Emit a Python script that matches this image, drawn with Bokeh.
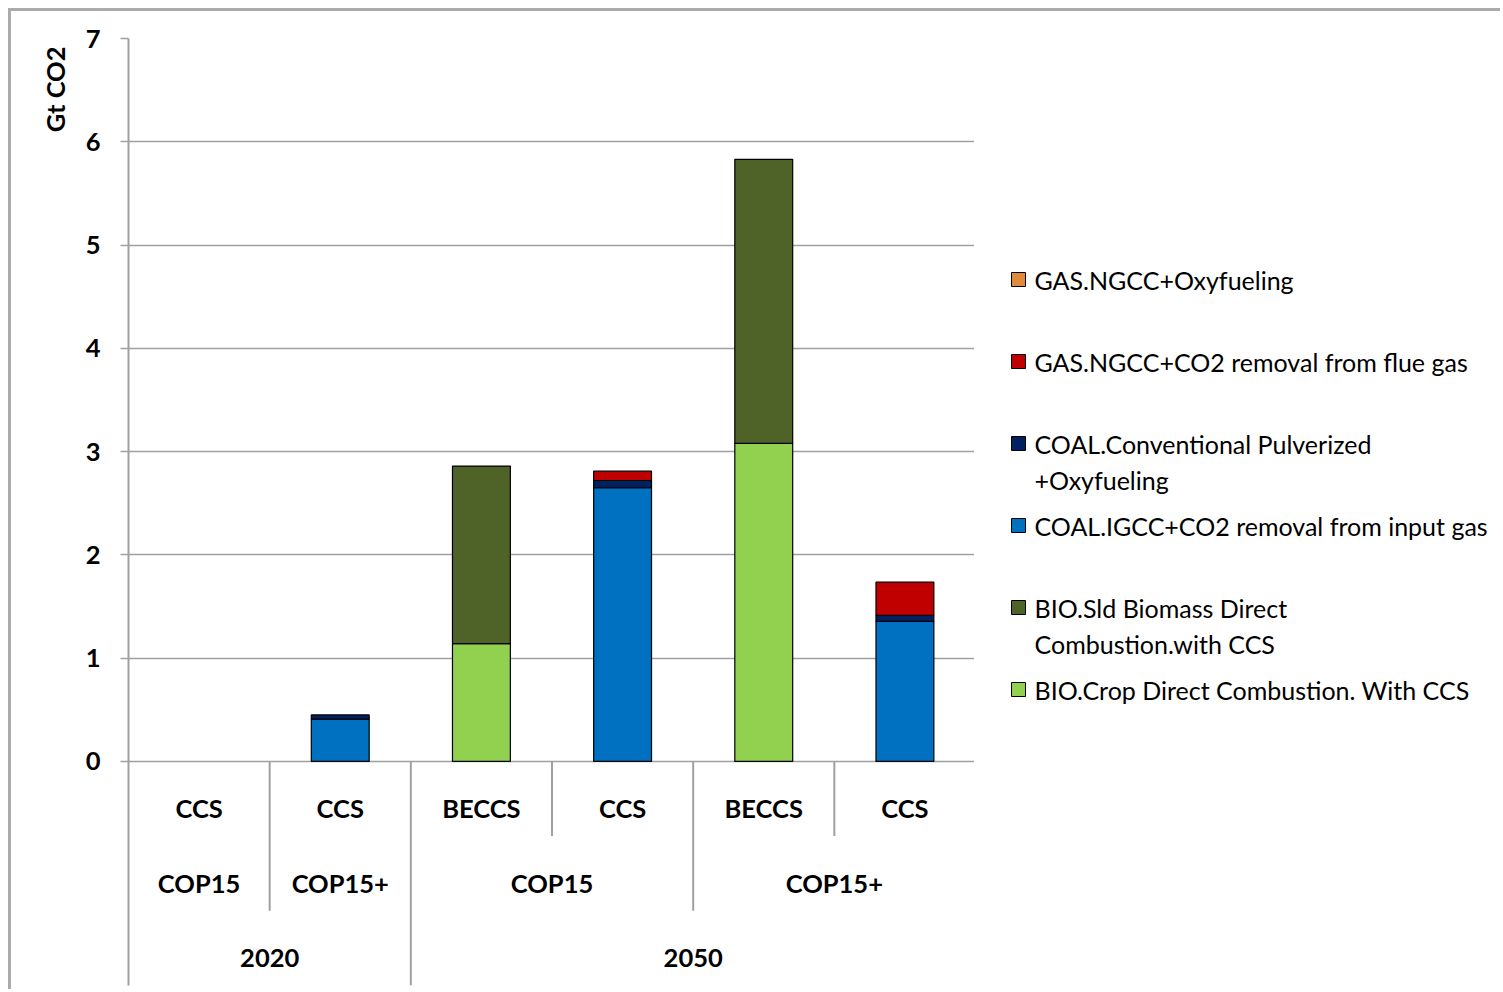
import numpy as np
from bokeh.plotting import figure
from bokeh.models import Range1d, FixedTicker, Title, ColumnDataSource
from bokeh.layouts import row
from bokeh.core.properties import value
from bokeh.embed import file_html
from bokeh.resources import INLINE

# ---------------- data ----------------
years = ["2020", "2020", "2050", "2050", "2050", "2050"]
scenarios = ["COP15", "COP15+", "COP15", "COP15", "COP15+", "COP15+"]
techs = ["CCS", "CCS", "BECCS", "CCS", "BECCS", "CCS"]

bio_crop = [0, 0, 1.14, 0, 3.08, 0]
bio_sld = [0, 0, 1.72, 0, 2.75, 0]
coal_igcc = [0, 0.41, 0, 2.65, 0, 1.355]
coal_pulv = [0, 0.04, 0, 0.07, 0, 0.06]
gas_flue = [0, 0, 0, 0.09, 0, 0.32]
gas_oxy = [0, 0, 0, 0, 0, 0]

# stacking order bottom -> top
series_values = [bio_crop, bio_sld, coal_igcc, coal_pulv, gas_flue, gas_oxy]
series_labels = [
    ["BIO.Crop Direct Combustion. With CCS"],
    ["BIO.Sld Biomass Direct", "Combustion.with CCS"],
    ["COAL.IGCC+CO2 removal from input gas"],
    ["COAL.Conventional Pulverized", "+Oxyfueling"],
    ["GAS.NGCC+CO2 removal from flue gas"],
    ["GAS.NGCC+Oxyfueling"],
]
series_colors = ["#92D050", "#4F6228", "#0070C0", "#002060", "#C00000", "#E08A3E"]

y_ticks = [0, 1, 2, 3, 4, 5, 6, 7]
y_title = "Gt CO2"

FONT = "Lato"
FS = "25px"
FSB = "25.5px"
GRAY = "#a0a0a0"
BORDER = "3px solid #ababab"

# ---------------- main chart ----------------
n = len(techs)
y_min = -2.17
row_h = -y_min / 3.0
W_MAIN, H = 966, 981
MB_L, MB_R, MB_T, MB_B = 117, 2, 27, 7
frame_w = W_MAIN - MB_L - MB_R
frame_h = H - MB_T - MB_B

p = figure(width=W_MAIN, height=H,
           x_range=Range1d(0, n), y_range=Range1d(y_min, 7),
           toolbar_location=None, output_backend="svg",
           x_axis_location=None,
           min_border_left=MB_L, min_border_right=MB_R,
           min_border_top=MB_T, min_border_bottom=MB_B)
p.outline_line_color = None
p.background_fill_color = "white"
p.border_fill_color = "white"
p.xgrid.visible = False
p.ygrid.ticker = FixedTicker(ticks=y_ticks)
p.ygrid.grid_line_color = GRAY
p.ygrid.grid_line_width = 1.5

ax = p.yaxis[0]
ax.ticker = FixedTicker(ticks=y_ticks)
ax.axis_line_color = GRAY
ax.axis_line_width = 2
ax.major_tick_line_color = GRAY
ax.major_tick_line_width = 1.5
ax.major_tick_out = 8
ax.major_tick_in = 0
ax.minor_tick_line_color = None
ax.major_label_text_font = FONT
ax.major_label_text_font_style = "bold"
ax.major_label_text_font_size = FSB
ax.major_label_text_color = "black"
ax.major_label_standoff = 20

xs = [i + 0.5 for i in range(n)]
bottom = np.zeros(n)
for vals, col in zip(series_values, series_colors):
    v = np.array(vals, dtype=float)
    top = bottom + v
    src = ColumnDataSource(dict(x=xs, top=top, bottom=bottom.copy(),
                                la=[1.0 if a > 0 else 0.0 for a in v]))
    p.vbar(x="x", top="top", bottom="bottom", width=0.41, source=src,
           fill_color=col, line_color="black", line_width=1.2, line_alpha="la")
    bottom = top

# category table separators
sx0, sy0, sy1 = [], [], []
for b in range(1, n + 1):
    if b == n or years[b] != years[b - 1]:
        depth = 3
    elif scenarios[b] != scenarios[b - 1]:
        depth = 2
    else:
        depth = 1
    sx0.append(b)
    sy0.append(0)
    sy1.append(-depth * row_h)
p.segment(x0=sx0, y0=sy0, x1=sx0, y1=sy1, line_color=GRAY, line_width=2)


def spans(keys):
    out = []
    start = 0
    for i in range(1, len(keys) + 1):
        if i == len(keys) or keys[i] != keys[start]:
            out.append((start, i, keys[start]))
            start = i
    return out


lx, ly, lt = [], [], []
for i in range(n):
    lx.append(i + 0.5); ly.append(-0.63 * row_h); lt.append(techs[i])
for s, e, k in spans(list(zip(years, scenarios))):
    lx.append((s + e) / 2); ly.append(-1.63 * row_h); lt.append(k[1])
for s, e, k in spans(years):
    lx.append((s + e) / 2); ly.append(-2.63 * row_h); lt.append(k)

p.text(x=lx, y=ly, text=lt, text_font=value(FONT), text_font_style="bold",
       text_font_size=FSB, text_align="center", text_baseline="middle",
       text_color="black")

p.add_layout(Title(text=y_title, align="right", offset=8, standoff=25,
                   text_font=FONT, text_font_style="bold",
                   text_font_size=FSB, text_color="black"), "left")

p.styles = {"border-top": BORDER, "border-left": BORDER}

# ---------------- legend panel ----------------
LW = 526
leg = figure(width=LW, height=H, x_range=Range1d(0, LW), y_range=Range1d(frame_h, 0),
             toolbar_location=None, output_backend="svg",
             x_axis_location=None, y_axis_location=None,
             min_border_left=0, min_border_right=0,
             min_border_top=MB_T, min_border_bottom=MB_B)
leg.outline_line_color = None
leg.xgrid.visible = False
leg.ygrid.visible = False

first_y = 241
step = 82
line_step = 36
sq_x = 44
txt_x = 60
rx, ry, rc = [], [], []
tx, ty, tt = [], [], []
order = list(range(len(series_labels)))[::-1]
for k, si in enumerate(order):
    yc = first_y + k * step
    rx.append(sq_x); ry.append(yc); rc.append(series_colors[si])
    for j, line in enumerate(series_labels[si]):
        tx.append(txt_x); ty.append(yc + j * line_step); tt.append(line)

leg.rect(x=rx, y=ry, width=14, height=14, fill_color=rc, line_color="black",
         line_width=1)
leg.text(x=tx, y=ty, text=tt, text_font=value(FONT), text_font_size=FS,
         text_align="left", text_baseline="middle", text_color="black")
leg.styles = {"border-top": BORDER}

layout = row(p, leg, margin=(8, 0, 0, 8))
open("out.html", "w").write(file_html(layout, INLINE))
